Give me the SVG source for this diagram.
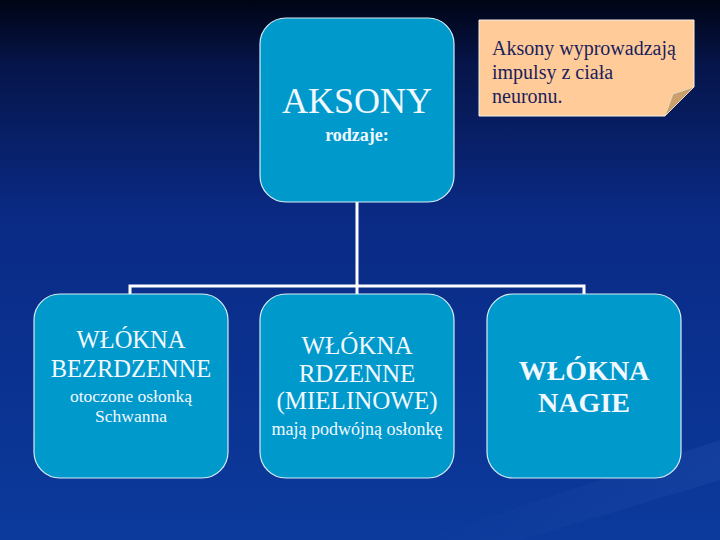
<svg xmlns="http://www.w3.org/2000/svg" width="720" height="540" viewBox="0 0 720 540">
<defs>
<linearGradient id="bg" x1="0" y1="0" x2="0" y2="1">
<stop offset="0" stop-color="#000414"/>
<stop offset="0.12" stop-color="#06154a"/>
<stop offset="0.4" stop-color="#0a2a85"/>
<stop offset="1" stop-color="#0b3a9c"/>
</linearGradient>
<linearGradient id="streak" x1="0" y1="0" x2="1" y2="0">
<stop offset="0" stop-color="#3a66c0" stop-opacity="0"/>
<stop offset="1" stop-color="#3a66c0" stop-opacity="0.35"/>
</linearGradient>
<style>
.box{fill:#0099cc;stroke:#d8ecf5;stroke-width:1.2}
.t{fill:#f2f8ff;text-anchor:middle}
.conn{fill:none;stroke:#ffffff;stroke-width:3}
.note{fill:#1c1c5c;font-size:20px}
</style>
</defs>
<rect width="720" height="540" fill="url(#bg)"/>
<path d="M420,540 L720,440 L720,480 L520,540 Z" fill="url(#streak)" opacity="0.5"/>
<g id="connectors">
<line class="conn" x1="357" y1="202" x2="357" y2="294"/>
<polyline class="conn" points="130,294 130,286 584,286 584,294"/>
</g>
<g font-family="Liberation Serif, Times New Roman, DejaVu Serif, serif">
<g id="aksony">
<rect class="box" x="260" y="18" width="194" height="184" rx="26"/>
<text class="t" x="357" y="113" font-size="36">AKSONY</text>
<text class="t" x="357" y="141" font-size="18" font-weight="bold">rodzaje:</text>
</g>
<g id="note">
<path d="M479,20 L694,20 L694,87 L665,116 L479,116 Z" fill="#ffcc99" stroke="#f4f0e8" stroke-width="1"/>
<path d="M694,87 L665,116 L673,94 Z" fill="#c9a06c" stroke="#e8dcc8" stroke-width="0.8"/>
<text class="note" x="492" y="55">Aksony wyprowadzają</text>
<text class="note" x="492" y="79">impulsy z ciała</text>
<text class="note" x="492" y="103">neuronu.</text>
</g>
<g id="bezrdzenne">
<rect class="box" x="34" y="294" width="194" height="184" rx="26"/>
<text class="t" x="131" y="348" font-size="24.5">WŁÓKNA</text>
<text class="t" x="131" y="377" font-size="24.5">BEZRDZENNE</text>
<text class="t" x="131" y="402" font-size="17.5">otoczone osłonką</text>
<text class="t" x="131" y="422" font-size="17.5">Schwanna</text>
</g>
<g id="rdzenne">
<rect class="box" x="260" y="294" width="194" height="184" rx="26"/>
<text class="t" x="357" y="354" font-size="25">WŁÓKNA</text>
<text class="t" x="357" y="382" font-size="25">RDZENNE</text>
<text class="t" x="357" y="409" font-size="25">(MIELINOWE)</text>
<text class="t" x="357" y="435" font-size="18">mają podwójną osłonkę</text>
</g>
<g id="nagie">
<rect class="box" x="487" y="294" width="194" height="184" rx="26"/>
<text class="t" x="584" y="380" font-size="28" font-weight="bold">WŁÓKNA</text>
<text class="t" x="584" y="412" font-size="28" font-weight="bold">NAGIE</text>
</g>
</g>
</svg>
